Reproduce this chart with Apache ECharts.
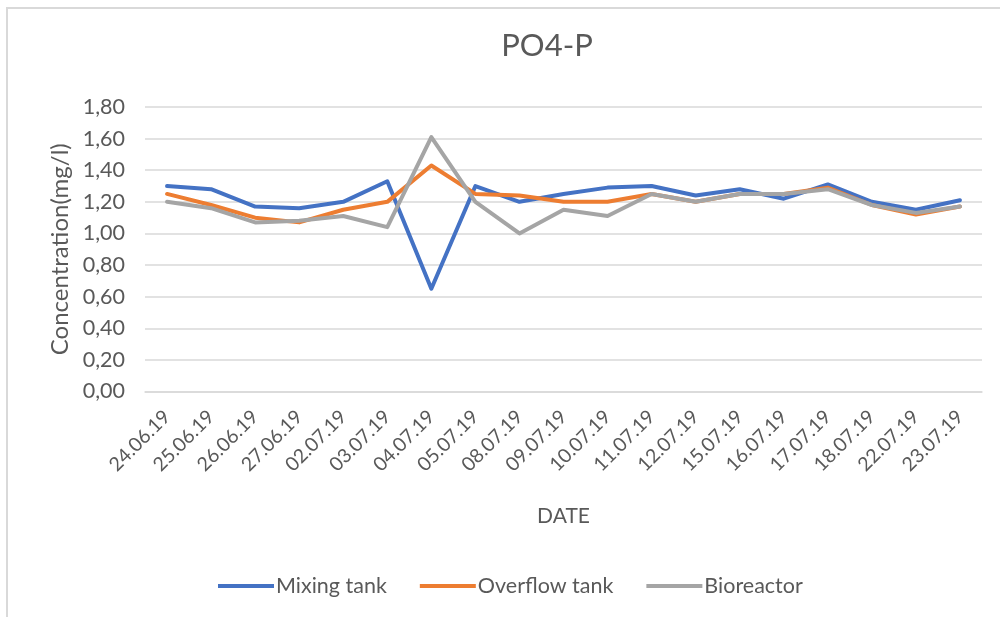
<!DOCTYPE html>
<html>
<head>
<meta charset="utf-8">
<title>PO4-P</title>
<script src="https://cdn.jsdelivr.net/npm/echarts@6/dist/echarts.min.js"></script>
<style>
  html, body { margin: 0; padding: 0; background: #fff; }
  #chart { width: 1000px; height: 617px; }
</style>
</head>
<body>
<div id="chart"></div>
<script>
// Sampling dates
const dates = ['24.06.19', '25.06.19', '26.06.19', '27.06.19', '02.07.19', '03.07.19', '04.07.19',
  '05.07.19', '08.07.19', '09.07.19', '10.07.19', '11.07.19', '12.07.19', '15.07.19',
  '16.07.19', '17.07.19', '18.07.19', '22.07.19', '23.07.19'];

// PO4-P concentration (mg/l) per sampling point
const mixingTank = [1.30, 1.28, 1.17, 1.16, 1.20, 1.33, 0.65, 1.30, 1.20, 1.25, 1.29, 1.30, 1.24,
  1.28, 1.22, 1.31, 1.20, 1.15, 1.21];
const overflowTank = [1.25, 1.18, 1.10, 1.07, 1.15, 1.20, 1.43, 1.25, 1.24, 1.20, 1.20, 1.25, 1.20,
  1.25, 1.25, 1.29, 1.18, 1.12, 1.17];
const bioreactor = [1.20, 1.16, 1.07, 1.08, 1.11, 1.04, 1.61, 1.20, 1.00, 1.15, 1.11, 1.25, 1.20,
  1.25, 1.25, 1.28, 1.18, 1.13, 1.17];

const seriesNames = ['Mixing tank', 'Overflow tank', 'Bioreactor'];
const seriesColors = ['#4472C4', '#ED7D31', '#A5A5A5'];
const seriesData = [mixingTank, overflowTank, bioreactor];

const FONT = 'Lato, "Open Sans", sans-serif';
const TEXT = '#595959';

const chart = echarts.init(document.getElementById('chart'), null, { renderer: 'canvas' });

chart.setOption({
  backgroundColor: '#ffffff',
  animation: false,
  textStyle: { fontFamily: FONT },
  graphic: [{
    type: 'rect',
    shape: { x: 7, y: 8, width: 1010, height: 630 },
    style: { fill: 'none', stroke: '#d9d9d9', lineWidth: 2 },
    silent: true
  }],
  title: {
    text: 'PO4-P',
    left: 542,
    top: 25,
    textAlign: 'center',
    textStyle: { fontFamily: FONT, fontSize: 31, fontWeight: 'normal', color: TEXT }
  },
  legend: {
    data: seriesNames,
    left: 213,
    top: 570,
    icon: 'rect',
    itemWidth: 56,
    itemHeight: 4,
    itemGap: 33,
    textStyle: { fontFamily: FONT, fontSize: 21.5, color: TEXT, padding: [0, 0, 0, -3] }
  },
  grid: { left: 145, right: 18, top: 107, bottom: 225.5, containLabel: false },
  xAxis: {
    type: 'category',
    data: dates,
    boundaryGap: true,
    name: 'DATE',
    nameLocation: 'middle',
    nameGap: 114,
    nameTextStyle: { fontFamily: FONT, fontSize: 21, color: TEXT },
    axisLine: { show: true, lineStyle: { color: '#d9d9d9', width: 1.5 } },
    axisTick: { show: false },
    axisLabel: {
      rotate: 45,
      margin: 22,
      interval: 0,
      fontFamily: FONT,
      fontSize: 19.5,
      color: TEXT
    }
  },
  yAxis: {
    type: 'value',
    min: 0,
    max: 1.8,
    interval: 0.2,
    name: 'Concentration(mg/l)',
    nameLocation: 'middle',
    nameGap: 73,
    nameTextStyle: { fontFamily: FONT, fontSize: 24, color: TEXT },
    axisLine: { show: false },
    axisTick: { show: false },
    axisLabel: {
      margin: 20,
      fontFamily: FONT,
      fontSize: 21.5,
      color: TEXT,
      formatter: v => v.toFixed(2).replace('.', ',')
    },
    splitLine: { lineStyle: { color: '#d9d9d9', width: 1.5 } }
  },
  series: seriesNames.map((name, i) => ({
    name,
    type: 'line',
    data: seriesData[i],
    symbol: 'none',
    color: seriesColors[i],
    lineStyle: { width: 4, color: seriesColors[i], join: 'round', cap: 'round' },
    emphasis: { disabled: true }
  }))
});
</script>
</body>
</html>
